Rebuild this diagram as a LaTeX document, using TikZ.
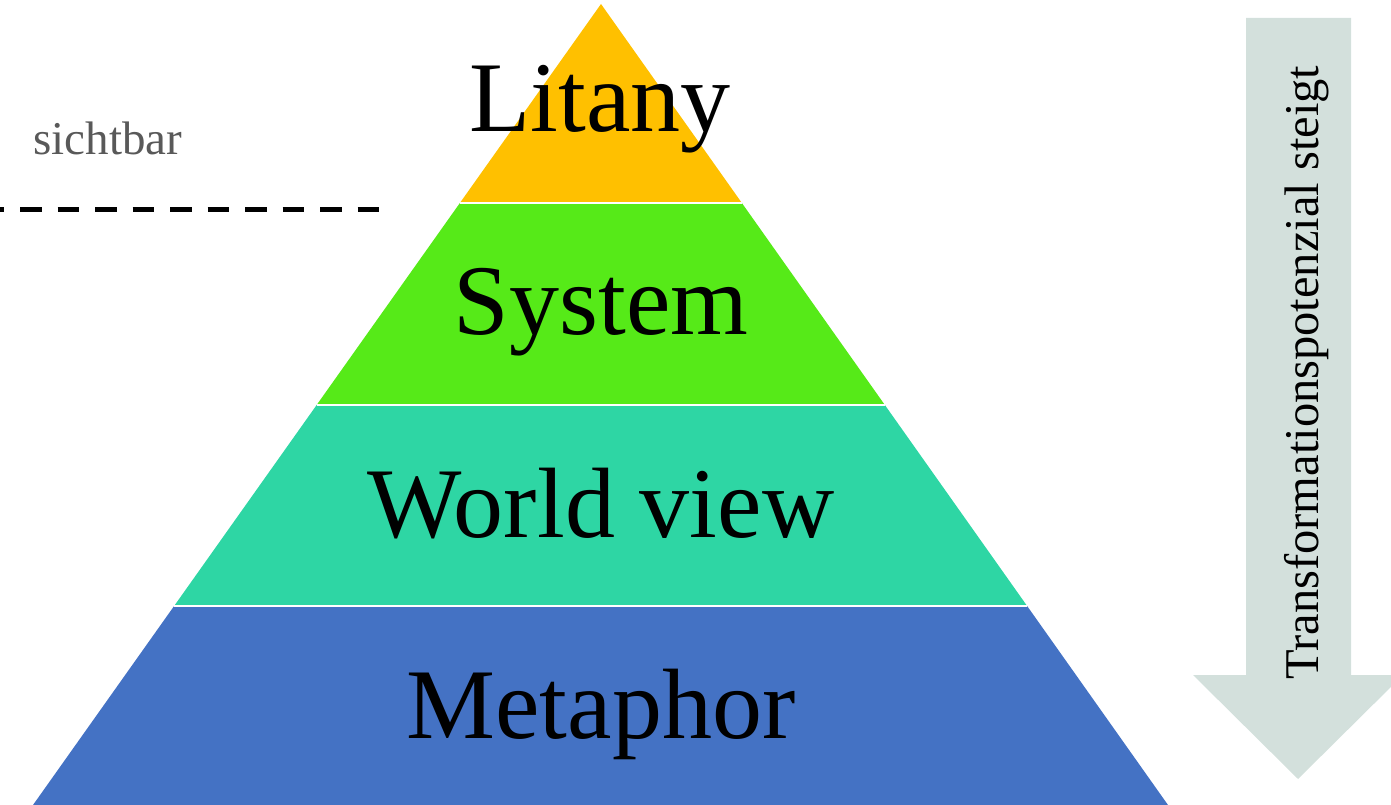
\documentclass[tikz,border=0pt]{standalone}
\usepackage{fontspec}
\setmainfont{Liberation Serif}
\usetikzlibrary{calc}
\definecolor{cLit}{RGB}{255,192,0}
\definecolor{cSys}{RGB}{86,234,24}
\definecolor{cWor}{RGB}{46,214,164}
\definecolor{cMet}{RGB}{68,114,196}
\definecolor{cArr}{RGB}{211,224,220}
\definecolor{cGray}{RGB}{89,89,89}
\tikzset{
  layertext/.style={anchor=base, inner sep=0pt, text=black, font=\fontsize{100}{120}\selectfont},
  sep/.style={draw=white, line width=2.5pt},
}
\begin{document}
\begin{tikzpicture}[x=1pt,y=-1pt]
\useasboundingbox (0,0) rectangle (1391,805);
\coordinate (apex) at (601,4);
\coordinate (bl) at (33,805);
\coordinate (br) at (1168,805);
\coordinate (l1) at ($(apex)!0.24844!(bl)$);
\coordinate (r1) at ($(apex)!0.24844!(br)$);
\coordinate (l2) at ($(apex)!0.50062!(bl)$);
\coordinate (r2) at ($(apex)!0.50062!(br)$);
\coordinate (l3) at ($(apex)!0.75156!(bl)$);
\coordinate (r3) at ($(apex)!0.75156!(br)$);
\fill[cLit] (apex) -- (r1) -- (l1) -- cycle;
\fill[cSys] (l1) -- (r1) -- (r2) -- (l2) -- cycle;
\fill[cWor] (l2) -- (r2) -- (r3) -- (l3) -- cycle;
\fill[cMet] (l3) -- (r3) -- (br) -- (bl) -- cycle;
\draw[sep] (l1) -- (r1);
\draw[sep] (l2) -- (r2);
\draw[sep] (l3) -- (r3);
\node[layertext] (lit) at (600,132) {Litany};
\node[layertext] (sys) at (601,334) {System};
\node[layertext] (wor) at (601,537) {World view};
\node[layertext] (met) at (601,738) {Metaphor};
% visible line
\node[anchor=base, inner sep=0pt, text=cGray, font=\fontsize{47}{56}\selectfont] (sicht) at (108,155) {sichtbar};
\coordinate (d0) at (-17.5,209);
\coordinate (d1) at (379,209);
\draw[line width=5pt, dash pattern=on 21.7pt off 15.8pt] (d0) -- (d1);
% arrow
\fill[cArr] (1246,18) -- (1351,18) -- (1351,675) -- (1403,675) -- (1298,779) -- (1193,675) -- (1246,675) -- cycle;
\node[anchor=base, inner sep=0pt, rotate=90, font=\fontsize{48.5}{58}\selectfont] (tp) at (1318,372.5) {Transformationspotenzial steigt};
\end{tikzpicture}
\end{document}
